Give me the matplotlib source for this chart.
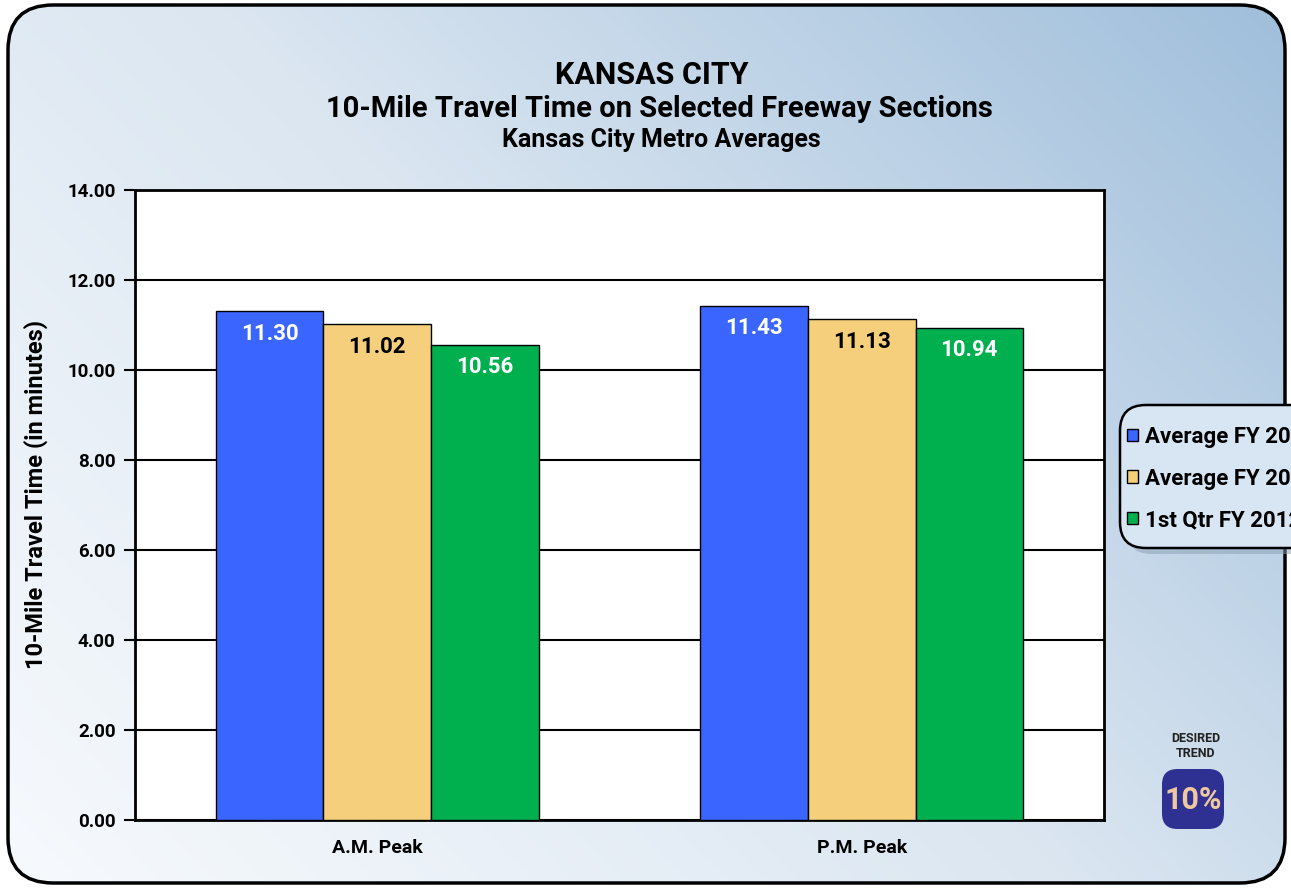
import numpy as np
import matplotlib.pyplot as plt
from matplotlib.patches import FancyBboxPatch
from matplotlib.colors import LinearSegmentedColormap

categories = ['A.M. Peak', 'P.M. Peak']
series_names = ['Average FY 2010', 'Average FY 2011', '1st Qtr FY 2012']
series_values = [
    [11.30, 11.43],
    [11.02, 11.13],
    [10.56, 10.94],
]
series_colors = ['#3a66ff', '#f5cf7c', '#00b04f']
label_colors = ['white', 'black', 'white']

plt.rcParams['font.family'] = ['Roboto', 'DejaVu Sans']
plt.rcParams['font.weight'] = 'bold'

W, H = 1291, 888
fig = plt.figure(figsize=(W / 100, H / 100), dpi=100)

# rounded gradient background
bg = fig.add_axes([0, 0, 1, 1], zorder=-10)
bg.set_xlim(0, 1)
bg.set_ylim(0, 1)
bg.axis('off')
xx, yy = np.meshgrid(np.linspace(0, 1, 300), np.linspace(0, 1, 300))
t = 0.6 * xx + 0.4 * yy
cmap = LinearSegmentedColormap.from_list('bg', ['#f7fafd', '#dbe6f1', '#9fbedb'])
im = bg.imshow(t, cmap=cmap, origin='lower', extent=[0, 1, 0, 1], aspect='auto')
frame = FancyBboxPatch((8 / W, 5 / H), 1277 / W, 878 / H,
                       boxstyle='round,pad=0,rounding_size=0.035',
                       transform=bg.transAxes, facecolor='none',
                       edgecolor='black', linewidth=2.5, mutation_aspect=W / H)
bg.add_patch(frame)
im.set_clip_path(frame)

# legend box (runs off the right edge, as in the source)
shadow = FancyBboxPatch((1126 / W, 1 - 554 / H), 220 / W, 143 / H,
                        boxstyle='round,pad=0,rounding_size=0.02',
                        transform=bg.transAxes, facecolor='#8a9fb5', alpha=0.5,
                        edgecolor='none', mutation_aspect=W / H)
bg.add_patch(shadow)
lbox = FancyBboxPatch((1120 / W, 1 - 548 / H), 220 / W, 143 / H,
                      boxstyle='round,pad=0,rounding_size=0.02',
                      transform=bg.transAxes, facecolor='#d8e5f2',
                      edgecolor='black', linewidth=1.8, mutation_aspect=W / H)
bg.add_patch(lbox)

# main chart
ax = fig.add_axes([135 / W, 68 / H, 969 / W, 630 / H])
ax.set_facecolor('white')
x = np.arange(len(categories))
w = 0.222
for i, (name, vals) in enumerate(zip(series_names, series_values)):
    pos = x + (i - 1) * w
    ax.bar(pos, vals, w, color=series_colors[i], edgecolor='black',
           linewidth=1.0, label=name, zorder=3)
    for p, v in zip(pos, vals):
        ax.text(p, v - 0.5, f'{v:.2f}', ha='center', va='center',
                color=label_colors[i], fontsize=16, fontweight='bold', zorder=4)

ax.set_xlim(-0.5, 1.5)
ax.set_ylim(0, 14)
ax.set_yticks(np.arange(0, 15, 2))
ax.set_yticklabels([f'{v:.2f}' for v in np.arange(0, 15, 2)])
ax.yaxis.grid(True, color='black', linewidth=1.5, zorder=0)
ax.set_axisbelow(True)
ax.set_xticks(x)
ax.set_xticklabels(categories)
ax.tick_params(axis='x', length=0, pad=14, labelsize=14)
ax.tick_params(axis='y', length=8, width=1.5, labelsize=13.5, pad=6)
for s in ax.spines.values():
    s.set_linewidth(2)
ax.set_ylabel('10-Mile Travel Time (in minutes)', fontsize=17, fontweight='bold')
ax.yaxis.set_label_coords(-0.09, 0.516)

# titles
fig.text(652 / W, 1 - 75 / H, 'KANSAS CITY', ha='center', va='center', fontsize=22, fontweight='bold')
fig.text(659 / W, 1 - 109 / H, '10-Mile Travel Time on Selected Freeway Sections',
         ha='center', va='center', fontsize=21, fontweight='bold')
fig.text(661 / W, 1 - 140 / H, 'Kansas City Metro Averages', ha='center', va='center',
         fontsize=18, fontweight='bold')

# legend entries
leg = fig.legend(loc='upper left', bbox_to_anchor=(1127 / W, 1 - 426 / H),
                 fontsize=16, frameon=False, handlelength=0.48,
                 handleheight=0.48, handletextpad=0.35, labelspacing=0.88,
                 borderpad=0, borderaxespad=0)

# desired trend badge
fig.text(1196 / W, 1 - 746 / H, 'DESIRED\nTREND', ha='center', va='center',
         fontsize=9, fontweight='bold', color='#222222', linespacing=1.2)
badge = FancyBboxPatch((1162 / W, 1 - 829 / H), 62 / W, 60 / H,
                       boxstyle='round,pad=0,rounding_size=0.012',
                       transform=fig.transFigure, facecolor='#2e3192',
                       edgecolor='none', mutation_aspect=W / H)
fig.patches.append(badge)
fig.text(1193 / W, 1 - 800 / H, '10%', ha='center', va='center',
         fontsize=22, fontweight='bold', color='#f0c8a0')

fig.savefig('out.png', dpi=100)
